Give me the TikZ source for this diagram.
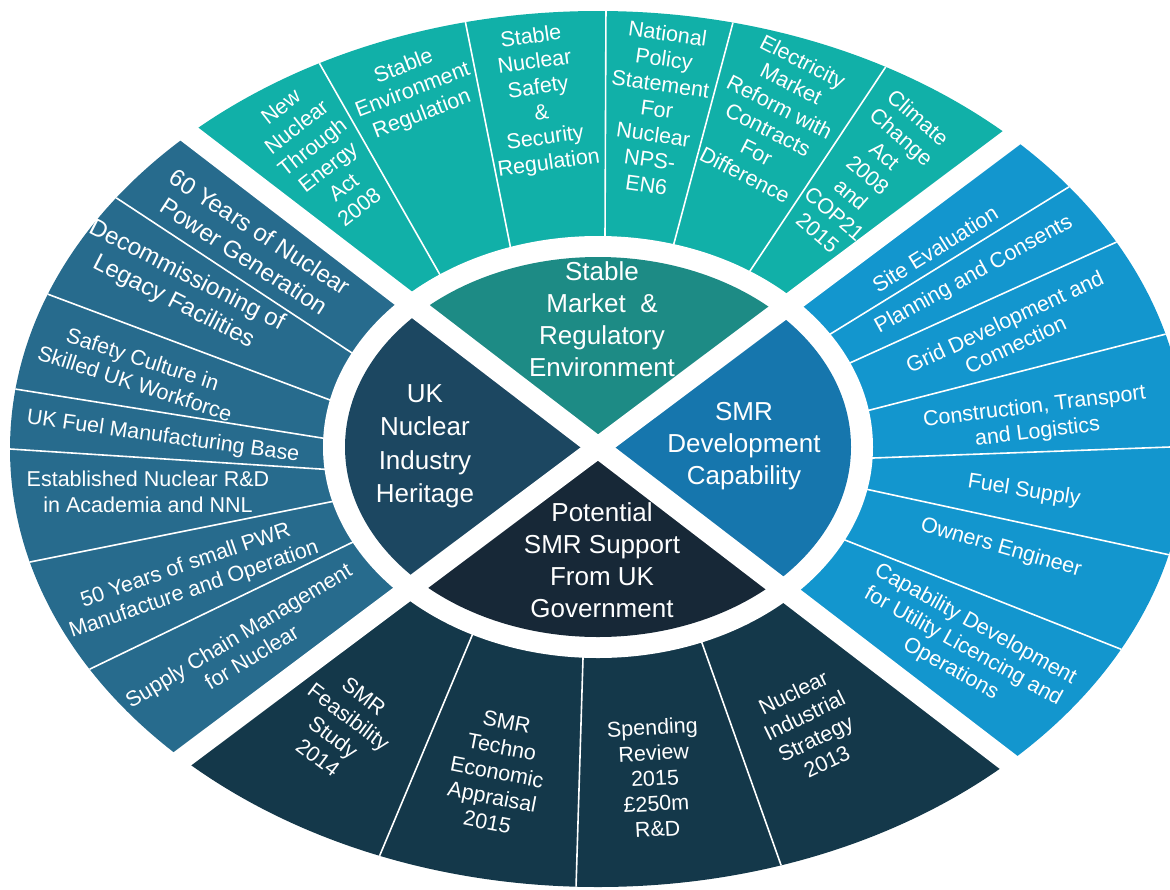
\documentclass[tikz,border=0pt]{standalone}
\usepackage{fontspec}
\setmainfont{Liberation Sans}
\usetikzlibrary{calc}
\definecolor{tealO}{RGB}{17,176,168}
\definecolor{tealI}{RGB}{29,139,133}
\definecolor{blueO}{RGB}{19,150,206}
\definecolor{blueI}{RGB}{22,118,173}
\definecolor{steelO}{RGB}{39,107,141}
\definecolor{steelI}{RGB}{28,71,97}
\definecolor{navyO}{RGB}{20,56,74}
\definecolor{navyI}{RGB}{23,40,55}
\tikzset{
  txt/.style={text=white, align=center, inner sep=0pt, font=\fontsize{21.5}{25.5}\selectfont},
  bigtxt/.style={text=white, align=center, inner sep=0pt, font=\fontsize{24}{29}\selectfont},
  hubtxt/.style={text=white, align=center, inner sep=0pt, font=\fontsize{26}{32}\selectfont},
  sepline/.style={draw=white, line width=1.6pt},
  gapband/.style={draw=white, line width=21pt}
}
\newcommand{\sepl}[2]{\draw[sepline] ($#1!-0.4!#2$) -- ($#1!1.15!#2$);}
\begin{document}
\begin{tikzpicture}[x=1pt,y=-1pt]
\useasboundingbox (0,0) rectangle (1170,889);
\clip (0,0) rectangle (1170,889);
\coordinate (C) at (598,447.5);
\coordinate (TL) at (-202,-166.1);
\coordinate (BR) at (1398,1061.1);
\coordinate (TR) at (1398,-151.7);
\coordinate (BL) at (-202,1046.7);
% outer sectors
\begin{scope}\clip (C) -- (TL) -- (TR) -- cycle;
\fill[tealO] (598,449) ellipse [x radius=588pt, y radius=438pt];\end{scope}
\begin{scope}\clip (C) -- (TR) -- (BR) -- cycle;
\fill[blueO] (598,449) ellipse [x radius=588pt, y radius=438pt];\end{scope}
\begin{scope}\clip (C) -- (BR) -- (BL) -- cycle;
\fill[navyO] (598,449) ellipse [x radius=588pt, y radius=438pt];\end{scope}
\begin{scope}\clip (C) -- (BL) -- (TL) -- cycle;
\fill[steelO] (598,449) ellipse [x radius=588pt, y radius=438pt];\end{scope}
% separators
\begin{scope}
\clip (598,449) ellipse [x radius=588pt, y radius=438pt];
\sepl{(317,59)}{(439,273)}
\sepl{(464,15)}{(511,250)}
\sepl{(606,3)}{(605,238)}
\sepl{(735,15)}{(673,247)}
\sepl{(889,62)}{(752,268)}
\sepl{(1072,185)}{(832,333)}
\sepl{(1110,245)}{(852,362)}
\sepl{(1170,333)}{(870,410)}
\sepl{(1170,447)}{(873,458)}
\sepl{(1170,555)}{(870,490)}
\sepl{(1123,650)}{(850,542)}
\sepl{(115,197)}{(352,353)}
\sepl{(50,295)}{(330,400)}
\sepl{(15,389)}{(322,438)}
\sepl{(10,449)}{(320,469)}
\sepl{(30,562)}{(330,502)}
\sepl{(88,670)}{(351,543)}
\sepl{(377,862)}{(471,638)}
\sepl{(576,888)}{(583,658)}
\sepl{(781,865)}{(702,643)}
\end{scope}
% white ring gap
\fill[white] (598,447) ellipse [x radius=275pt, y radius=211pt];
% inner quadrants
\begin{scope}\clip (C) -- (TL) -- (TR) -- cycle;
\fill[tealI] (598,447) ellipse [x radius=253pt, y radius=190pt];\end{scope}
\begin{scope}\clip (C) -- (TR) -- (BR) -- cycle;
\fill[blueI] (598,447) ellipse [x radius=253pt, y radius=190pt];\end{scope}
\begin{scope}\clip (C) -- (BR) -- (BL) -- cycle;
\fill[navyI] (598,447) ellipse [x radius=253pt, y radius=190pt];\end{scope}
\begin{scope}\clip (C) -- (BL) -- (TL) -- cycle;
\fill[steelI] (598,447) ellipse [x radius=253pt, y radius=190pt];\end{scope}
% diagonal gaps
\draw[gapband] (TL) -- (BR);
\draw[gapband] (TR) -- (BL);
% top sector texts
\node[txt, rotate=38] (t1) at (320,157) {New\\Nuclear\\Through\\Energy\\Act\\2008};
\node[txt, rotate=21] (t2) at (413,91) {Stable\\Environment\\Regulation};
\node[txt, rotate=8] (t3) at (540,101) {Stable\\Nuclear\\Safety\\\&\\Security\\Regulation};
\node[txt, rotate=-8] (t4) at (657,109) {National\\Policy\\Statement\\For\\Nuclear\\NPS-\\EN6};
\node[txt, rotate=-27] (t5) at (774,118) {Electricity\\Market\\Reform with\\Contracts\\For\\Difference};
\node[txt, rotate=-41] (t6) at (868,175) {Climate\\Change\\Act\\2008\\and\\COP21\\2015};
% right sector texts
\node[txt, rotate=32] (r1) at (935,249) {Site Evaluation};
\node[txt, rotate=29] (r2) at (974,275) {Planning and Consents};
\node[txt, rotate=25] (r3) at (1010,333) {Grid Development and\\Connection};
\node[txt, rotate=7] (r4) at (1036,420) {Construction, Transport\\and Logistics};
\node[txt, rotate=-9] (r5) at (1024,491) {Fuel Supply};
\node[txt, rotate=-16] (r6) at (1001,548) {Owners Engineer};
\node[txt, rotate=-29] (r7) at (963,647) {Capability Development\\for Utility Licencing and\\Operations};
% left sector texts
\node[bigtxt, rotate=-33] (l1) at (252,244) {60 Years of Nuclear\\Power Generation};
\node[bigtxt, rotate=-27] (l2) at (180,289) {Decommissioning of\\Legacy Facilities};
\node[txt, rotate=-18] (l3) at (139,371) {Safety Culture in\\Skilled UK Workforce};
\node[txt, rotate=-8] (l4) at (163,437) {UK Fuel Manufacturing Base};
\node[txt] (l5) at (148,492) {Established Nuclear R\&D\\in Academia and NNL};
\node[txt, rotate=19] (l6) at (190,578) {50 Years of small PWR\\Manufacture and Operation};
\node[txt, rotate=31] (l7) at (245,646) {Supply Chain Management\\for Nuclear};
% bottom sector texts
\node[txt, rotate=-37] (b1) at (341,727) {SMR\\Feasibility\\Study\\2014};
\node[txt, rotate=-11] (b2) at (497,772) {SMR\\Techno\\Economic\\Appraisal\\2015};
\node[txt, rotate=3] (b3) at (655,778) {Spending\\Review\\2015\\£250m\\R\&D};
\node[txt, rotate=26] (b4) at (810,727) {Nuclear\\Industrial\\Strategy\\2013};
% hub texts
\node[hubtxt] (h1) at (602,319) {Stable\\Market\ \ \&\\Regulatory\\Environment};
\node[hubtxt, font=\fontsize{26}{33.5}\selectfont] (h2) at (425,446) {UK\\Nuclear\\Industry\\Heritage};
\node[hubtxt] (h3) at (744,446) {SMR\\Development\\Capability};
\node[hubtxt] (h4) at (602,560) {Potential\\SMR Support\\From UK\\Government};
\end{tikzpicture}
\end{document}
